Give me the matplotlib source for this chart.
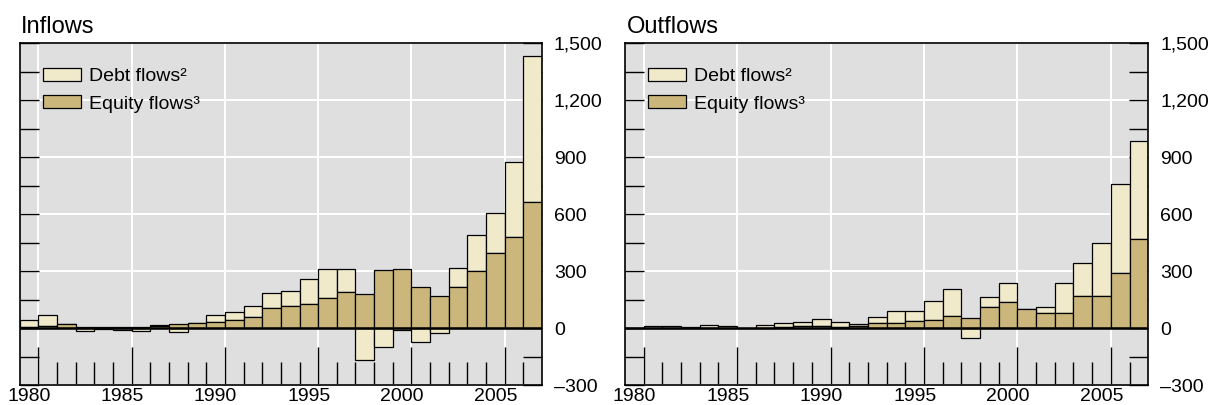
import numpy as np
import matplotlib
matplotlib.use("Agg")
import matplotlib.pyplot as plt
from matplotlib.ticker import FuncFormatter, FixedLocator

plt.rcParams['font.family'] = ['Liberation Sans', 'DejaVu Sans']

years = list(range(1980, 2008))

inflow_equity = [7, 10, 22, 8, 8, 6, 5, 12, 24, 28, 31, 44, 58, 105, 120, 127,
                 161, 191, 179, 305, 314, 220, 168, 217, 303, 395, 482, 666]
inflow_debt = [39, 62, 3, -14, -5, -10, -14, 8, -22, 2, 38, 40, 59, 82, 75, 133,
               151, 119, -168, -99, -10, -73, -24, 100, 186, 214, 395, 769]

outflow_equity = [1, 2, 2, 2, 3, 2, 1, 4, 6, 10, 10, 7, 14, 30, 30, 38,
                  45, 64, 55, 111, 137, 101, 81, 78, 170, 170, 290, 470]
outflow_debt = [2, 12, 10, 7, 15, 8, 2, 12, 20, 23, 39, 25, 11, 31, 62, 52,
                99, 144, -52, 54, 104, 2, 33, 161, 172, 279, 470, 515]

panel_titles = ['Inflows', 'Outflows']
legend_labels = ['Debt flows\u00b2', 'Equity flows\u00b3']
label_years = [1980, 1985, 1990, 1995, 2000, 2005]

debt_color = '#f0eacb'
equity_color = '#cbb77c'
bg_color = '#dfdfdf'

fig = plt.figure(figsize=(12.13, 4.05), dpi=100)
W, H = 1213.0, 405.0
ax_bottom = 1 - 385.3 / H
ax_height = (385.3 - 43.3) / H
positions = [[19.7 / W, ax_bottom, 522.3 / W, ax_height],
             [625.0 / W, ax_bottom, 523.2 / W, ax_height]]
title_x = [20.5 / W, 626.6 / W]

fmt = FuncFormatter(lambda v, p: f"{v:,.0f}".replace('-', '\u2013'))

for i, (eq, debt) in enumerate([(inflow_equity, inflow_debt),
                                 (outflow_equity, outflow_debt)]):
    ax = fig.add_axes(positions[i])
    ax.set_facecolor(bg_color)
    ax.set_axisbelow(True)
    eq_a = np.array(eq, dtype=float)
    debt_a = np.array(debt, dtype=float)
    debt_bottom = np.where(debt_a >= 0, np.maximum(eq_a, 0), np.minimum(eq_a, 0))
    ax.bar(years, debt_a, bottom=debt_bottom, width=1.0, color=debt_color,
           edgecolor='black', linewidth=0.9, label=legend_labels[0], zorder=2)
    ax.bar(years, eq_a, width=1.0, color=equity_color,
           edgecolor='black', linewidth=0.9, label=legend_labels[1], zorder=2)
    ax.axhline(0, color='black', lw=1.8, zorder=3)

    ax.set_xlim(1979.5, 2007.5)
    ax.set_ylim(-300, 1500)

    # x ticks at year boundaries
    bounds = [y + 0.5 for y in years[:-1]]
    major_b = [b for b in bounds if (b - 0.5) % 5 == 0]
    minor_b = [b for b in bounds if (b - 0.5) % 5 != 0]
    ax.xaxis.set_major_locator(FixedLocator(major_b))
    ax.xaxis.set_minor_locator(FixedLocator(minor_b))
    ax.tick_params(axis='x', which='major', direction='in', length=27.1,
                   width=1.0, color='black', labelbottom=False, top=False)
    ax.tick_params(axis='x', which='minor', direction='in', length=16.3,
                   width=1.0, color='black', labelbottom=False, top=False)

    # y ticks
    ax.yaxis.set_major_locator(FixedLocator(list(range(-300, 1501, 300))))
    ax.yaxis.set_minor_locator(FixedLocator(list(range(-150, 1500, 300))))
    ax.yaxis.set_major_formatter(fmt)
    ax.tick_params(axis='y', which='both', direction='in', length=13.7,
                   width=1.0, color='black', left=True, right=True,
                   labelleft=False, labelright=True, labelsize=14, pad=8.6)

    ax.grid(True, which='major', color='white', lw=1.4)
    for s in ax.spines.values():
        s.set_color('black')
        s.set_linewidth(1.2)
        s.set_zorder(4)

    sec = ax.secondary_xaxis('bottom')
    sec.set_xticks(label_years)
    sec.set_xticklabels([str(y) for y in label_years])
    sec.tick_params(length=0, labelsize=14, pad=2.0)
    sec.spines['bottom'].set_visible(False)

    handles, labels = ax.get_legend_handles_labels()
    ax.legend(handles, labels, loc='upper left', bbox_to_anchor=(0.044, 0.928),
              frameon=False, fontsize=14, handlelength=1.95, handleheight=0.65,
              handletextpad=0.42, labelspacing=0.52, borderpad=0, borderaxespad=0)

    fig.text(title_x[i], 1 - 33.3 / H, panel_titles[i], fontsize=17,
             ha='left', va='baseline')

fig.savefig('out.png', dpi=100)
